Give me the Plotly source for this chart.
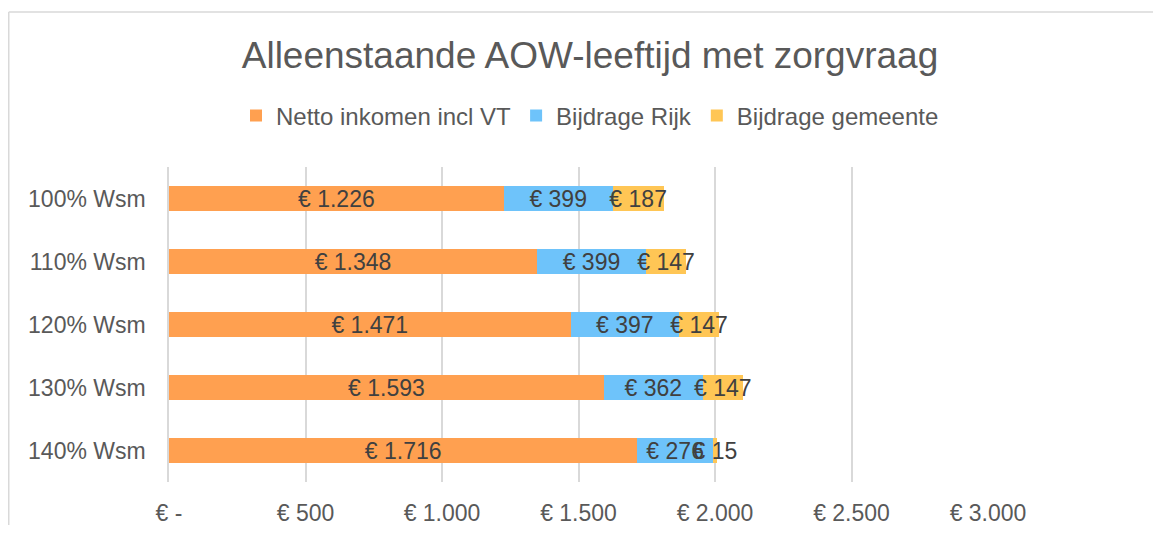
import plotly.graph_objects as go

categories = ["100% Wsm", "110% Wsm", "120% Wsm", "130% Wsm", "140% Wsm"]
netto = [1226, 1348, 1471, 1593, 1716]
rijk = [399, 399, 397, 362, 276]
gemeente = [187, 147, 147, 147, 15]
tick_vals = [0, 500, 1000, 1500, 2000, 2500, 3000]
tick_text = ["€ -", "€ 500", "€ 1.000", "€ 1.500", "€ 2.000", "€ 2.500", "€ 3.000"]


def eur(v):
    return "€ " + f"{v:,}".replace(",", ".")


series = [
    ("Netto inkomen incl VT", netto, "#FFA050"),
    ("Bijdrage Rijk", rijk, "#6EC3FA"),
    ("Bijdrage gemeente", gemeente, "#FFC655"),
]

FONT = "Liberation Sans, Arial"
W, H = 1145, 517
L, R, T, B = 161, 980, 159, 474  # plot area in figure pixels

fig = go.Figure()
for name, vals, col in series:
    fig.add_trace(go.Bar(
        y=categories, x=vals, name=name, orientation="h",
        marker=dict(color=col, line=dict(width=0)),
        text=[eur(v) for v in vals], textposition="inside", textangle=0,
        insidetextanchor="middle", constraintext="none",
        textfont=dict(family=FONT, size=23, color="#404040"),
        width=0.4, cliponaxis=False,
    ))

fig.update_layout(
    barmode="stack",
    width=W, height=H,
    margin=dict(l=L, r=W - R, t=T, b=H - B, autoexpand=False),
    paper_bgcolor="white", plot_bgcolor="white",
    font=dict(family=FONT, color="#595959"),
    title=dict(text="Alleenstaande AOW-leeftijd met zorgvraag",
               x=582 / W, xanchor="center", y=1 - 47 / H, yanchor="middle",
               font=dict(size=37, color="#595959")),
    legend=dict(orientation="h", x=582 / W, xref="container", xanchor="center",
                y=1 - 108 / H, yref="container", yanchor="middle",
                font=dict(size=24, color="#595959"), itemwidth=30,
                traceorder="normal", tracegroupgap=0),
    showlegend=True,
)
fig.update_xaxes(range=[0, 3000], tickvals=tick_vals, ticktext=tick_text,
                 showgrid=True, gridcolor="#D9D9D9", gridwidth=1.5,
                 zeroline=False, showline=False, ticks="", automargin=False,
                 tickfont=dict(size=23, color="#595959"), ticklabelstandoff=15)
fig.update_yaxes(autorange="reversed", showgrid=False, zeroline=False,
                 showline=True, linecolor="#D9D9D9", linewidth=1.5, ticks="",
                 automargin=False,
                 tickfont=dict(size=23, color="#595959"), ticklabelstandoff=17)

# chart border (outer frame: only top and left edges visible in the crop)
x_left = (0.75 - L) / (R - L)
x_right = (W - L) / (R - L)
y_top = (B - 4) / (B - T)
y_bot = (B - H) / (B - T)
fig.add_shape(type="line", xref="paper", yref="paper",
              x0=x_left, x1=x_right, y0=y_top, y1=y_top,
              line=dict(color="#D9D9D9", width=1.5), layer="below")
fig.add_shape(type="line", xref="paper", yref="paper",
              x0=x_left, x1=x_left, y0=y_top, y1=y_bot,
              line=dict(color="#D9D9D9", width=1.5), layer="below")

fig.write_html("out.html")
